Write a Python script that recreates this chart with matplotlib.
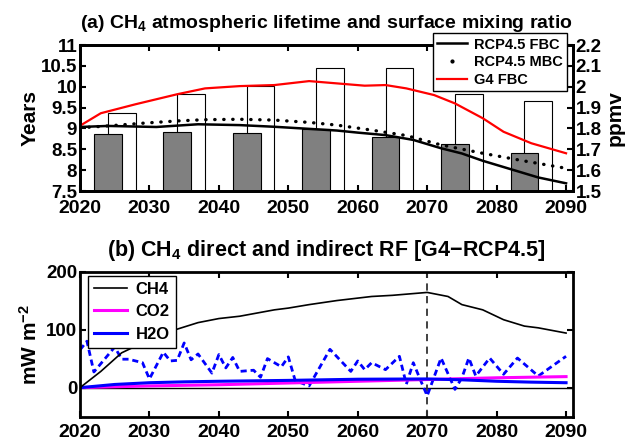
import matplotlib
matplotlib.use("Agg")
import matplotlib.pyplot as plt
from matplotlib.lines import Line2D

plt.rcParams['font.family'] = ['Liberation Sans', 'DejaVu Sans']
plt.rcParams['font.weight'] = 'bold'
plt.rcParams['mathtext.default'] = 'regular'

# ---- panel (a) data ----
decades = [2025, 2035, 2045, 2055, 2065, 2075, 2085]
life_rcp = [8.87, 8.92, 8.89, 8.99, 8.79, 8.62, 8.41]      # gray bars (years)
life_g4 = [9.36, 9.82, 10.02, 10.44, 10.44, 9.83, 9.66]    # white bars (years)

yr_fbc = [2020, 2024, 2031, 2037, 2043, 2048, 2053, 2057, 2060, 2064, 2068,
          2072, 2075, 2078, 2082, 2086, 2090]
rcp_fbc = [1.807, 1.812, 1.807, 1.820, 1.816, 1.808, 1.798, 1.790, 1.780, 1.768,
           1.745, 1.705, 1.680, 1.645, 1.605, 1.565, 1.537]

yr_mbc = [2020, 2024, 2029, 2034, 2038, 2043, 2048, 2053, 2057, 2062, 2067,
          2072, 2078, 2084, 2090]
rcp_mbc = [1.803, 1.812, 1.825, 1.836, 1.842, 1.844, 1.840, 1.829, 1.816, 1.792,
           1.766, 1.721, 1.681, 1.644, 1.609]

yr_g4 = [2020, 2023, 2028, 2034, 2038, 2043, 2048, 2053, 2057, 2061, 2064, 2067,
         2071, 2074, 2078, 2081, 2085, 2090]
g4_fbc = [1.813, 1.873, 1.916, 1.964, 1.992, 2.003, 2.008, 2.027, 2.016, 2.005,
          2.008, 1.992, 1.960, 1.920, 1.849, 1.784, 1.729, 1.681]

# ---- panel (b) data ----
yr_ch4 = [2020, 2023, 2026, 2029, 2033, 2037, 2040, 2043, 2048, 2050, 2053, 2057,
          2062, 2065, 2067, 2070, 2073, 2075, 2078, 2081, 2084, 2086, 2090]
rf_ch4 = [0, 28, 60, 77, 97, 112, 119, 123, 134, 137, 143, 150,
          157, 159, 161, 164, 157, 143, 134, 117, 106, 103, 94]

yr_co2 = [2020, 2030, 2040, 2050, 2060, 2070, 2080, 2090]
rf_co2 = [0, 3, 5, 8, 11, 14, 17, 19]

yr_h2o = [2020, 2025, 2030, 2035, 2040, 2050, 2060, 2070, 2075, 2080, 2085, 2090]
rf_h2o = [0, 5.5, 8.5, 10, 11, 12.5, 14.5, 15, 13.5, 11, 9.5, 8.5]

yr_h2o_ann = [2020, 2021, 2022, 2025, 2026, 2027, 2029, 2030, 2032, 2033, 2034, 2035,
              2036, 2037, 2039, 2040, 2041, 2042, 2043, 2045, 2046, 2047, 2049, 2050,
              2051, 2053, 2056, 2059, 2060, 2061, 2062, 2064, 2066, 2067, 2068, 2069,
              2070, 2072, 2074, 2075, 2076, 2077, 2079, 2081, 2083, 2086, 2090]
rf_h2o_ann = [65, 80, 27, 70, 49, 49, 43, 15, 61, 46, 47, 77,
              48, 58, 25, 57, 34, 52, 28, 30, 18, 50, 36, 53,
              12, 3, 66, 28, 46, 31, 43, 31, 54, 6, 43, 14,
              -14, 51, -3, 17, 51, 20, 51, 23, 51, 20, 54]

fig = plt.figure(figsize=(6.25, 4.43), dpi=100)

# ---------------- panel (a) ----------------
ax1 = fig.add_axes([0.128, 0.5688, 0.7888, 0.3296])
ax1.bar([d + 1 for d in decades], life_g4, width=4, color='white',
        edgecolor='black', linewidth=0.8)
ax1.bar([d - 1 for d in decades], life_rcp, width=4, color='#808080',
        edgecolor='black', linewidth=0.8)
ax1.set_xlim(2020, 2091)
ax1.set_ylim(7.5, 11)
ax1.set_yticks([7.5, 8, 8.5, 9, 9.5, 10, 10.5, 11])
ax1.set_yticklabels(['7.5', '8', '8.5', '9', '9.5', '10', '10.5', '11'])
ax1.set_xticks(range(2020, 2091, 10))
ax1.set_ylabel('Years', fontsize=15, fontweight='bold', labelpad=1)
ax1.tick_params(axis='x', direction='in', length=4, width=1.5,
                labelsize=14, pad=6.5, top=True)
ax1.tick_params(axis='y', direction='in', length=4, width=1.5,
                labelsize=13.5, pad=2)
ax1.set_title('(a) CH$_4$ atmospheric lifetime and surface mixing ratio',
              fontsize=14, fontweight='bold', pad=12)

ax2 = ax1.twinx()
ax2.plot(yr_fbc, rcp_fbc, color='black', linewidth=1.8)
ax2.plot(yr_mbc, rcp_mbc, color='black', linewidth=2.4,
         linestyle=(0, (0.1, 2.6)), dash_capstyle='round')
ax2.plot(yr_g4, g4_fbc, color='red', linewidth=1.6)
ax2.set_ylim(1.5, 2.2)
ax2.set_yticks([1.5, 1.6, 1.7, 1.8, 1.9, 2.0, 2.1, 2.2])
ax2.set_yticklabels(['1.5', '1.6', '1.7', '1.8', '1.9', '2', '2.1', '2.2'])
ax2.set_ylabel('ppmv', fontsize=15, fontweight='bold', labelpad=3)
ax2.tick_params(axis='y', direction='in', length=4, width=1.5,
                labelsize=13.5, pad=2)

handles = [Line2D([], [], color='black', linewidth=1.8),
           Line2D([], [], color='black', linestyle='none', marker='.', markersize=4),
           Line2D([], [], color='red', linewidth=1.6)]
leg = ax2.legend(handles, ['RCP4.5 FBC', 'RCP4.5 MBC', 'G4 FBC'],
                 loc='upper right', bbox_to_anchor=(0.9075, 0.925),
                 bbox_transform=fig.transFigure, fontsize=10.5, frameon=True,
                 fancybox=False, edgecolor='black', framealpha=1,
                 handlelength=2.0, borderpad=0.3, labelspacing=0.25,
                 handletextpad=0.5, borderaxespad=0)
leg.get_frame().set_linewidth(1.0)

for a in (ax1, ax2):
    for s in a.spines.values():
        s.set_linewidth(2)

# ---------------- panel (b) ----------------
ax3 = fig.add_axes([0.128, 0.0594, 0.7888, 0.3277])
ax3.axhline(0, color='black', linewidth=1.0)
ax3.axvline(2070, color='#333333', linewidth=1.3, linestyle=(0, (4, 3)))
ax3.plot(yr_h2o_ann, rf_h2o_ann, color='blue', linewidth=2.0,
         linestyle=(0, (2.2, 1.4)))
l_co2, = ax3.plot(yr_co2, rf_co2, color='magenta', linewidth=2.2)
l_h2o, = ax3.plot(yr_h2o, rf_h2o, color='blue', linewidth=2.2)
l_ch4, = ax3.plot(yr_ch4, rf_ch4, color='black', linewidth=1.2)
ax3.set_xlim(2020, 2091)
ax3.set_ylim(-50, 200)
ax3.set_yticks([0, 100, 200])
ax3.set_xticks(range(2020, 2091, 10))
ax3.set_ylabel('mW m$^{-2}$', fontsize=15, fontweight='bold', labelpad=4)
ax3.tick_params(axis='x', direction='in', length=4, width=1.5,
                labelsize=14, pad=5, top=True)
ax3.tick_params(axis='y', direction='in', length=4, width=1.5,
                labelsize=13.5, pad=2, right=True)
ax3.set_title('(b) CH$_4$ direct and indirect RF [G4\u2212RCP4.5]',
              fontsize=15.5, fontweight='bold', pad=11)
leg2 = ax3.legend([l_ch4, l_co2, l_h2o], ['CH4', 'CO2', 'H2O'],
                  loc='upper left', bbox_to_anchor=(0.141, 0.377),
                  bbox_transform=fig.transFigure, fontsize=12, frameon=True,
                  fancybox=False, edgecolor='black', framealpha=1,
                  handlelength=2.0, borderpad=0.35, labelspacing=0.45,
                  handletextpad=0.5, borderaxespad=0)
leg2.get_frame().set_linewidth(1.0)
for s in ax3.spines.values():
    s.set_linewidth(2)

fig.savefig('out.png', dpi=100)
